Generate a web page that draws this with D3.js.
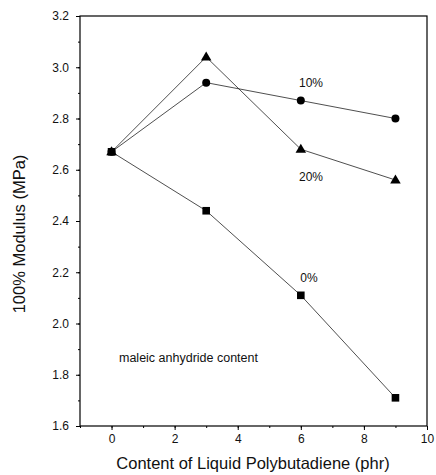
<!DOCTYPE html>
<html>
<head>
<meta charset="utf-8">
<script src="https://cdn.jsdelivr.net/npm/d3@7"></script>
<style>
  body { margin: 0; background: #fff; }
  svg { font-family: "Liberation Sans", Arial, sans-serif; }
</style>
</head>
<body>
<svg id="chart" width="436" height="475"></svg>
<script>
// data
const xVals = [0, 3, 6, 9];
const ma10 = [2.67, 2.94, 2.87, 2.80];   // circles
const ma20 = [2.67, 3.04, 2.68, 2.56];   // triangles
const ma0  = [2.67, 2.44, 2.11, 1.71];   // squares
const xTicks = [0, 2, 4, 6, 8, 10];
const yTicks = [1.6, 1.8, 2.0, 2.2, 2.4, 2.6, 2.8, 3.0, 3.2];

const svg = d3.select("#chart");
const x = d3.scaleLinear().domain([-1, 10]).range([80, 427]);
const y = d3.scaleLinear().domain([1.6, 3.2]).range([426, 16]);

// frame
svg.append("rect")
  .attr("x", x(-1)).attr("y", y(3.2))
  .attr("width", x(10) - x(-1)).attr("height", y(1.6) - y(3.2))
  .attr("fill", "none").attr("stroke", "#000").attr("stroke-width", 1.2);

// axes
const gx = svg.append("g").attr("transform", "translate(0," + y(1.6) + ")");
gx.call(d3.axisBottom(x).tickValues(d3.range(-1, 10.5, 1)).tickSize(2).tickFormat(""));
gx.call(g => g.append("g").call(d3.axisBottom(x).tickValues(xTicks).tickSize(4).tickFormat(d3.format("d"))));
gx.selectAll(".domain").remove();
gx.selectAll("text").attr("font-size", 12).attr("fill", "#111").attr("font-family", "Liberation Sans, Arial, sans-serif").attr("dy", "0.85em");

const gy = svg.append("g").attr("transform", "translate(" + x(-1) + ",0)");
gy.call(d3.axisLeft(y).tickValues(d3.range(16, 33).map(v => v / 10)).tickSize(2).tickFormat(""));
gy.call(g => g.append("g").call(d3.axisLeft(y).tickValues(yTicks).tickSize(4).tickFormat(d3.format(".1f"))));
gy.selectAll(".domain").remove();
gy.selectAll("text").attr("font-size", 12).attr("fill", "#111").attr("font-family", "Liberation Sans, Arial, sans-serif").attr("x", -11);
svg.selectAll(".tick line").attr("stroke", "#000").attr("stroke-width", 1);

// series
const line = d3.line().x((d, i) => x(xVals[i])).y(d => y(d));
[ma10, ma20, ma0].forEach(s => {
  svg.append("path").datum(s).attr("d", line)
    .attr("fill", "none").attr("stroke", "#222").attr("stroke-width", 0.8);
});

svg.append("g").selectAll("circle").data(ma10).enter().append("circle")
  .attr("cx", (d, i) => x(xVals[i])).attr("cy", d => y(d)).attr("r", 4).attr("fill", "#000");

const tri = d3.symbol().type(d3.symbolTriangle).size(48);
svg.append("g").selectAll("path").data(ma20).enter().append("path")
  .attr("d", tri)
  .attr("transform", (d, i) => "translate(" + x(xVals[i]) + "," + (y(d) + 0.5) + ")")
  .attr("fill", "#000");

svg.append("g").selectAll("rect").data(ma0).enter().append("rect")
  .attr("x", (d, i) => x(xVals[i]) - 3.8).attr("y", d => y(d) - 3.8)
  .attr("width", 7.6).attr("height", 7.6).attr("fill", "#000");

// labels
const lab = (t, px, py, fs, anchor) => svg.append("text").text(t)
  .attr("x", px).attr("y", py).attr("font-size", fs).attr("text-anchor", anchor || "middle").attr("fill", "#111");
lab("10%", 311, 87, 12);
lab("20%", 311, 181, 12);
lab("0%", 309, 282, 12);
lab("maleic anhydride content", 119, 362, 12.5, "start");

svg.append("text").text("Content of Liquid Polybutadiene (phr)")
  .attr("x", 253).attr("y", 469).attr("text-anchor", "middle").attr("font-size", 16.5).attr("fill", "#111");
svg.append("text").text("100% Modulus (MPa)")
  .attr("transform", "translate(25,234) rotate(-90)")
  .attr("text-anchor", "middle").attr("font-size", 16.5).attr("fill", "#111");
</script>
</body>
</html>
